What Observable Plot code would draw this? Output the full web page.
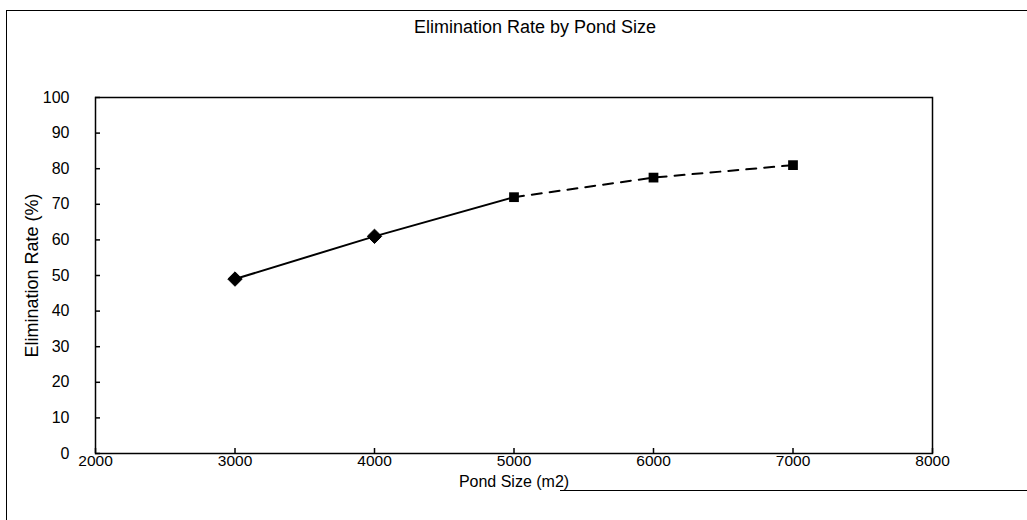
<!DOCTYPE html>
<html>
<head>
<meta charset="utf-8">
<script src="https://cdn.jsdelivr.net/npm/d3@7"></script>
<script src="https://cdn.jsdelivr.net/npm/@observablehq/plot@0.6"></script>
<style>
  html, body { margin: 0; padding: 0; background: #fff; }
  #wrap { position: relative; width: 1027px; height: 520px; overflow: hidden; font-family: "Liberation Sans", Arial, sans-serif; }
  #title { position: absolute; left: 0; width: 1070px; top: 17px; text-align: center; font-size: 18px; color: #000; }
  #border { position: absolute; left: 6px; top: 10px; width: 1040px; height: 530px; border-left: 1.5px solid #000; border-top: 1.5px solid #000; }
  #border2 { position: absolute; left: 560px; top: 490px; width: 480px; height: 0; border-top: 1.5px solid #000; }
  #chart { position: absolute; left: 0; top: 0; }
  #chart svg text { font-size: 16px; }
  #chart svg g[aria-label="x-axis tick label"] text { font-size: 15.5px; }
  #chart svg g[aria-label="y-axis label"] text { font-size: 18px; }
  #chart svg g[aria-label="x-axis label"] text { font-size: 16px; }
</style>
</head>
<body>
<div id="wrap">
  <div id="border"></div>
  <div id="border2"></div>
  <div id="chart"></div>
  <div id="title">Elimination Rate by Pond Size</div>
</div>
<script>
// Data
const measuredSize = [3000, 4000, 5000];
const measuredRate = [49, 61, 72];
const projectedSize = [5000, 6000, 7000];
const projectedRate = [72, 77.5, 81];
const xTicks = [2000, 3000, 4000, 5000, 6000, 7000, 8000];
const yTicks = [0, 10, 20, 30, 40, 50, 60, 70, 80, 90, 100];

const measured = measuredSize.map((x, i) => ({x, y: measuredRate[i]}));
const projected = projectedSize.map((x, i) => ({x, y: projectedRate[i]}));

const chart = Plot.plot({
  width: 1027,
  height: 520,
  marginLeft: 95,
  marginRight: 95,
  marginTop: 97,
  marginBottom: 67,
  style: {fontFamily: "'Liberation Sans', Arial, sans-serif", fontSize: "16px", color: "#000", background: "transparent"},
  x: {domain: [2000, 8000]},
  y: {domain: [0, 100]},
  marks: [
    Plot.frame({stroke: "#000", strokeWidth: 1.5}),
    Plot.axisY({ticks: yTicks, tickSize: -5, tickPadding: 31, tickFormat: d => String(d),
      label: "Elimination Rate (%)", labelAnchor: "center", labelArrow: "none", labelOffset: 70,
      stroke: "#000", strokeWidth: 1.5}),
    Plot.axisX({ticks: xTicks, tickSize: -5, tickPadding: 6, tickFormat: d => String(d),
      label: "Pond Size (m2)", labelAnchor: "center", labelArrow: "none", labelOffset: 33,
      stroke: "#000", strokeWidth: 1.5}),
    Plot.line(measured, {x: "x", y: "y", stroke: "#000", strokeWidth: 2}),
    Plot.line(projected, {x: "x", y: "y", stroke: "#000", strokeWidth: 2, strokeDasharray: "10,8"}),
    Plot.dot(measured.slice(0, 2), {x: "x", y: "y", symbol: "diamond2", r: 6.5, fill: "#000", stroke: "#000", strokeWidth: 1}),
    Plot.dot(projected, {x: "x", y: "y", symbol: "square", r: 5.5, fill: "#000"})
  ]
});
document.getElementById("chart").appendChild(chart);
</script>
</body>
</html>
